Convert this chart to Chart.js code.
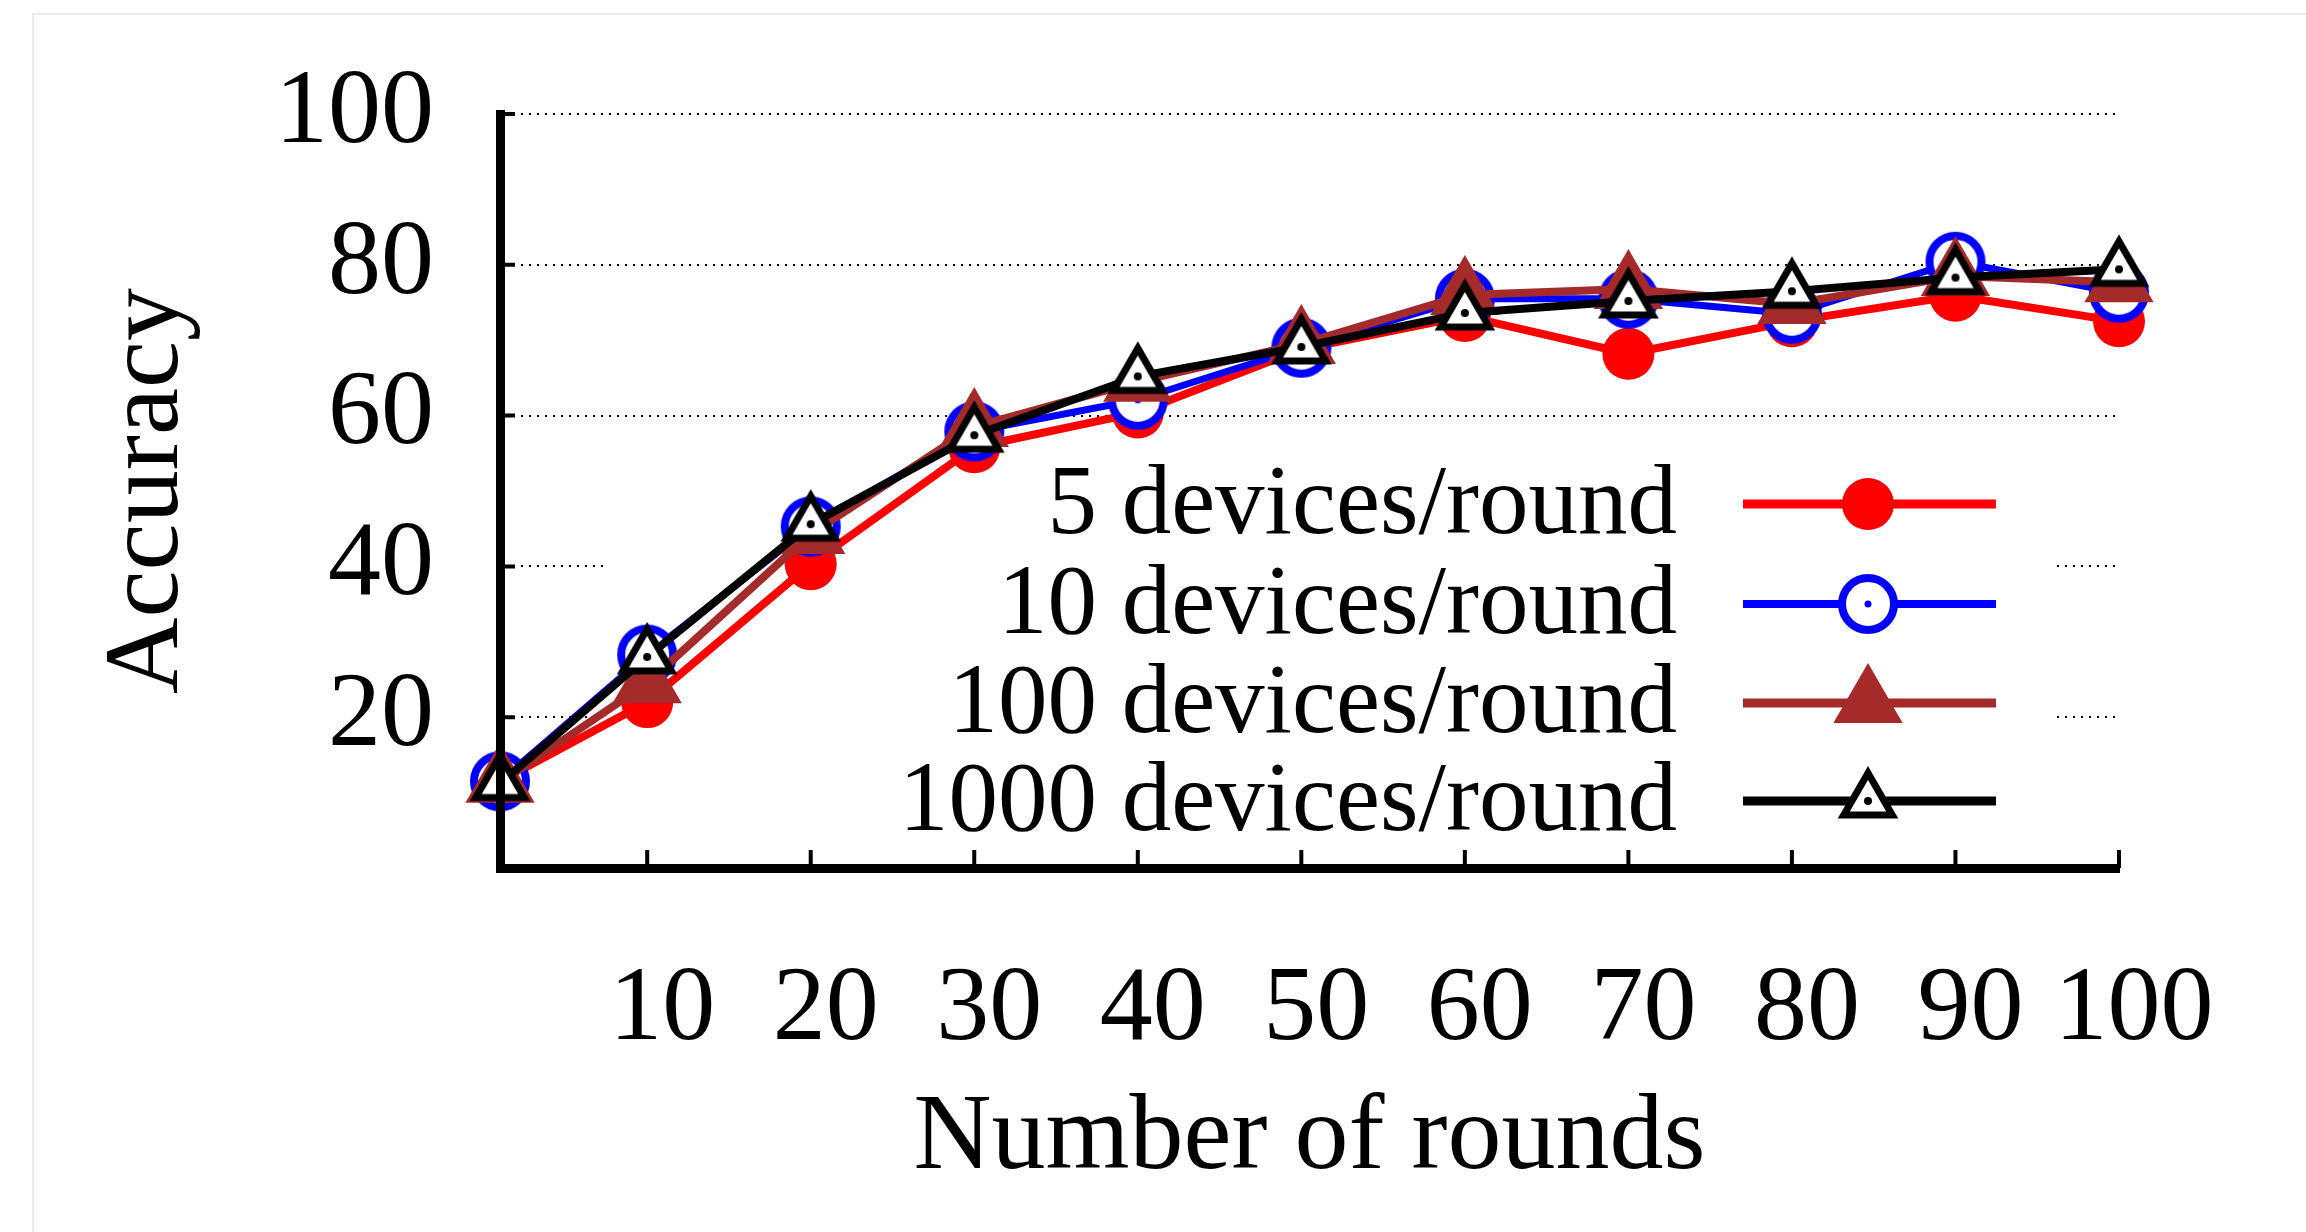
<!DOCTYPE html>
<html>
<head>
<meta charset="utf-8">
<script src="https://cdn.jsdelivr.net/npm/chart.js@4.4.1/dist/chart.umd.min.js"></script>
<style>
html,body{margin:0;padding:0;background:#fff;}
#wrap{position:relative;width:2306px;height:1232px;overflow:hidden;background:#fff;}
#frame{position:absolute;left:32px;top:13px;right:-10px;bottom:-10px;border-top:2px solid #ececec;border-left:2px solid #ececec;pointer-events:none;}
canvas{position:absolute;left:0;top:0;}
</style>
</head>
<body>
<div id="wrap"><canvas id="c" width="2306" height="1232"></canvas><div id="frame"></div></div>
<script>
// ---- data ----
const rounds = [1, 10, 20, 30, 40, 50, 60, 70, 80, 90, 100];
const acc5 = [11.5, 22.0, 40.3, 55.8, 60.4, 68.8, 73.2, 68.2, 72.5, 75.9, 72.5];
const acc10 = [11.5, 28.3, 45.3, 57.9, 62.1, 69.0, 75.5, 75.5, 73.5, 80.4, 76.3];
const acc100 = [11.3, 24.5, 44.3, 58.5, 64.5, 69.5, 76.0, 76.8, 74.8, 78.5, 77.7];
const acc1000 = [11.2, 28.0, 45.6, 57.4, 65.2, 69.1, 73.6, 75.2, 76.5, 78.3, 79.4];
const seriesLabels = ['5 devices/round', '10 devices/round', '100 devices/round', '1000 devices/round'];
const xTickValues = [10, 20, 30, 40, 50, 60, 70, 80, 90, 100];
const yTickValues = [20, 40, 60, 80, 100];
const xTitle = 'Number of rounds';
const yTitle = 'Accuracy';

const FONT = '"Liberation Serif", "Times New Roman", serif';
const RED = '#ff0000', BLUE = '#0000ff', BROWN = '#a52a2a', BLACK = '#000000';

function ringMarker(color, r, lw, dotR) {
  const pad = Math.ceil(lw / 2) + 2;
  const size = 2 * (r + pad);
  const c = document.createElement('canvas');
  c.width = size; c.height = size;
  const g = c.getContext('2d');
  const m = size / 2;
  g.beginPath(); g.arc(m, m, r, 0, Math.PI * 2);
  g.fillStyle = '#fff'; g.fill();
  g.lineWidth = lw; g.strokeStyle = color; g.stroke();
  g.beginPath(); g.arc(m, m, dotR, 0, Math.PI * 2);
  g.fillStyle = color; g.fill();
  return c;
}
function triMarker(color, r, lw, dotR) {
  const pad = lw * 2 + 2;
  const size = 2 * (r + pad);
  const c = document.createElement('canvas');
  c.width = size; c.height = size;
  const g = c.getContext('2d');
  const m = size / 2;
  g.beginPath();
  g.moveTo(m, m - r);
  g.lineTo(m + r * Math.sin(2 * Math.PI / 3), m - r * Math.cos(2 * Math.PI / 3));
  g.lineTo(m + r * Math.sin(4 * Math.PI / 3), m - r * Math.cos(4 * Math.PI / 3));
  g.closePath();
  g.fillStyle = '#fff'; g.fill();
  g.lineJoin = 'miter'; g.lineWidth = lw; g.strokeStyle = color; g.stroke();
  g.beginPath(); g.arc(m, m, dotR, 0, Math.PI * 2);
  g.fillStyle = color; g.fill();
  return c;
}
const blueRing = ringMarker(BLUE, 26, 8, 3.5);
const blackTri = triMarker(BLACK, 28, 7, 4);

const toXY = vals => rounds.map((r, i) => ({x: r, y: vals[i]}));

const datasets = [
  {label: seriesLabels[0], data: toXY(acc5), borderColor: RED, backgroundColor: RED, borderWidth: 8,
   pointStyle: 'circle', pointRadius: 26, pointBorderWidth: 0, pointBackgroundColor: RED, pointBorderColor: RED, order: 4},
  {label: seriesLabels[1], data: toXY(acc10), borderColor: BLUE, backgroundColor: BLUE, borderWidth: 7,
   pointStyle: blueRing, pointRadius: 29, pointBorderWidth: 0, order: 3},
  {label: seriesLabels[2], data: toXY(acc100), borderColor: BROWN, backgroundColor: BROWN, borderWidth: 8,
   pointStyle: 'triangle', pointRadius: 40, pointBorderWidth: 0, pointBackgroundColor: BROWN, pointBorderColor: BROWN, order: 2},
  {label: seriesLabels[3], data: toXY(acc1000), borderColor: BLACK, backgroundColor: BLACK, borderWidth: 8,
   pointStyle: blackTri, pointRadius: 30, pointBorderWidth: 0, order: 1}
];
datasets.forEach(d => { d.clip = false; d.tension = 0; d.fill = false; d.borderJoinStyle = 'round'; d.borderCapStyle = 'round'; });

// key (legend) drawn inside the plot with an opaque white box
const keyPlugin = {
  id: 'keyBox',
  beforeDatasetsDraw(chart) {
    const ctx = chart.ctx;
    const ca = chart.chartArea;
    ctx.save();
    ctx.fillStyle = '#fff';
    ctx.fillRect(ca.left + 103, 448, (ca.right - 64) - (ca.left + 103), 400);
    const rowsY = [504, 604, 703, 801];
    const textRight = 1677, lineL = 1743, lineR = 1996, mk = 1868;
    ctx.font = '99px ' + FONT;
    ctx.textAlign = 'right';
    ctx.textBaseline = 'middle';
    chart.data.datasets.forEach((ds, i) => {
      const y = rowsY[i];
      ctx.fillStyle = '#000';
      ctx.fillText(ds.label, textRight, y + 3);
      ctx.beginPath();
      ctx.moveTo(lineL, y); ctx.lineTo(lineR, y);
      ctx.lineWidth = ds.borderWidth + 1;
      ctx.strokeStyle = ds.borderColor;
      ctx.stroke();
      ctx.fillStyle = ds.pointBackgroundColor || ds.borderColor;
      ctx.strokeStyle = ds.borderColor;
      Chart.helpers.drawPoint(ctx, {pointStyle: ds.pointStyle, radius: ds.pointRadius, rotation: 0, borderWidth: 0}, mk, y);
    });
    // inward tick marks
    const xs = chart.scales.x, ys = chart.scales.y;
    ctx.strokeStyle = '#000';
    ctx.lineWidth = 4;
    ctx.beginPath();
    xTickValues.forEach(v => { const px = xs.getPixelForValue(v); ctx.moveTo(px, ca.bottom); ctx.lineTo(px, ca.bottom - 18); });
    yTickValues.forEach(v => { const py = ys.getPixelForValue(v); ctx.moveTo(ca.left, py); ctx.lineTo(ca.left + 15, py); });
    ctx.stroke();
    ctx.restore();
  }
};

new Chart(document.getElementById('c'), {
  type: 'line',
  data: {datasets},
  options: {
    responsive: false,
    animation: false,
    devicePixelRatio: 1,
    events: [],
    layout: {padding: {top: 114, right: 187, bottom: 0, left: 0}},
    plugins: {legend: {display: false}, tooltip: {enabled: false}},
    scales: {
      x: {
        type: 'linear', position: 'bottom', min: 1, max: 100,
        afterBuildTicks: s => { s.ticks = xTickValues.map(v => ({value: v})); },
        afterFit: s => { s.height = 364; },
        grid: {display: false, drawTicks: false},
        border: {display: true, color: '#000', width: 9, z: 1},
        ticks: {color: '#000', font: {family: FONT, size: 106}, padding: 80, labelOffset: 15, maxRotation: 0, autoSkip: false},
        title: {display: true, text: xTitle, color: '#000', font: {family: FONT, size: 108}, padding: {top: 0, bottom: 28}}
      },
      y: {
        type: 'linear', position: 'left', min: 0, max: 100,
        afterBuildTicks: s => { s.ticks = yTickValues.map(v => ({value: v})); },
        afterFit: s => { s.width = 500; s.paddingTop = 0; s.paddingBottom = 0; },
        grid: {display: true, drawTicks: false, color: '#000', lineWidth: 2},
        border: {display: true, color: '#000', width: 9, dash: [2, 6], z: 1},
        ticks: {color: '#000', font: {family: FONT, size: 106}, padding: 66},
        title: {display: true, text: yTitle, color: '#000', font: {family: FONT, size: 106}, padding: {top: 86, bottom: 0}}
      }
    }
  },
  plugins: [keyPlugin]
});
</script>
</body>
</html>
